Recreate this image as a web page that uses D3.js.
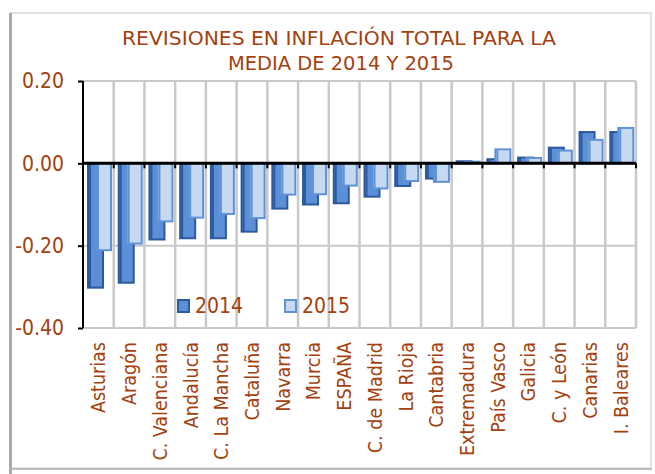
<!DOCTYPE html>
<html>
<head>
<meta charset="utf-8">
<script src="https://cdn.jsdelivr.net/npm/d3@7"></script>
<style>
  body { margin: 0; background: #fff; }
  text { font-family: "DejaVu Sans Condensed", "DejaVu Sans", sans-serif; font-stretch: condensed; }
</style>
</head>
<body>
<div id="vis"></div>
<script>
// data
var regions = ["Asturias", "Aragón", "C. Valenciana", "Andalucía", "C. La Mancha", "Cataluña",
    "Navarra", "Murcia", "ESPAÑA", "C. de Madrid", "La Rioja", "Cantabria", "Extremadura",
    "País Vasco", "Galicia", "C. y León", "Canarias", "I. Baleares"];
var rev2014 = [-0.302, -0.290, -0.185, -0.182, -0.182, -0.166, -0.110, -0.100, -0.097, -0.081,
    -0.055, -0.037, 0.005, 0.010, 0.014, 0.038, 0.076, 0.076];
var rev2015 = [-0.211, -0.195, -0.141, -0.132, -0.123, -0.133, -0.076, -0.075, -0.054, -0.061,
    -0.043, -0.045, 0.004, 0.034, 0.013, 0.031, 0.057, 0.086];
var yTicks = [0.2, 0.0, -0.2, -0.4];
var seriesNames = ["2014", "2015"];

const WIDTH = 655;
const HEIGHT = 474;
const PLOT_LEFT = 83;
const PLOT_RIGHT = 636;
const PLOT_TOP = 81;
const PLOT_BOTTOM = 328;
const TEXT_COLOR = "#a3410f";
const GRID_COLOR = "#c9c9c9";
const FILL = ["#5b8fd8", "#c6d9f1"];
const STROKE = ["#2c5a9c", "#5f93d6"];

var svg = d3.select("#vis").append("svg")
    .attr("width", WIDTH)
    .attr("height", HEIGHT);

// chart frame
svg.append("rect")
    .attr("x", 11).attr("y", 13)
    .attr("width", 640).attr("height", 455)
    .attr("fill", "#fff")
    .attr("stroke", "#e2e2e2")
    .attr("stroke-width", 2);
svg.append("line")
    .attr("x1", 10.5).attr("x2", 10.5).attr("y1", 13).attr("y2", 474)
    .attr("stroke", "#a9a9a9").attr("stroke-width", 3);
svg.append("line")
    .attr("x1", 11).attr("x2", 652).attr("y1", 469).attr("y2", 469)
    .attr("stroke", "#bdbdbd").attr("stroke-width", 2);

// title
var title = svg.append("text")
    .attr("text-anchor", "middle")
    .attr("fill", TEXT_COLOR)
    .attr("font-size", "20px");
title.append("tspan").attr("x", 339).attr("y", 45)
    .attr("textLength", 434).attr("lengthAdjust", "spacingAndGlyphs")
    .text("REVISIONES EN INFLACIÓN TOTAL PARA LA");
title.append("tspan").attr("x", 341).attr("y", 70)
    .attr("textLength", 226).attr("lengthAdjust", "spacingAndGlyphs")
    .text("MEDIA DE 2014 Y 2015");

var x = d3.scaleBand()
    .domain(regions)
    .range([PLOT_LEFT, PLOT_RIGHT])
    .paddingInner(0)
    .paddingOuter(0);

var y = d3.scaleLinear()
    .domain([-0.4, 0.2])
    .range([PLOT_BOTTOM, PLOT_TOP]);

var bw = x.bandwidth();

// vertical gridlines at category edges
svg.append("g").selectAll("line")
    .data(regions)
    .enter()
    .append("line")
    .attr("x1", function (d) { return x(d) + bw; })
    .attr("x2", function (d) { return x(d) + bw; })
    .attr("y1", PLOT_TOP)
    .attr("y2", PLOT_BOTTOM)
    .attr("stroke", GRID_COLOR)
    .attr("stroke-width", 2.5);

// horizontal gridlines
svg.append("g").selectAll("line")
    .data(yTicks.filter(function (d) { return d !== 0; }))
    .enter()
    .append("line")
    .attr("x1", PLOT_LEFT)
    .attr("x2", PLOT_RIGHT)
    .attr("y1", function (d) { return y(d); })
    .attr("y2", function (d) { return y(d); })
    .attr("stroke", GRID_COLOR)
    .attr("stroke-width", 2);

// bars, 2014 drawn first, 2015 overlapping on the right
var series = [rev2014, rev2015];
var offsets = [5, 13];
var barW = 15;
series.forEach(function (vals, s) {
    var g = svg.append("g");
    g.selectAll("rect.bar")
        .data(vals)
        .enter()
        .append("rect")
        .attr("x", function (d, i) { return x(regions[i]) + offsets[s]; })
        .attr("y", function (d) { return Math.min(y(d), y(0)); })
        .attr("width", barW)
        .attr("height", function (d) { return Math.abs(y(d) - y(0)); })
        .attr("fill", FILL[s])
        .attr("stroke", STROKE[s])
        .attr("stroke-width", 2);
    // darker left edge for the bevelled look
    g.selectAll("rect.edge")
        .data(vals)
        .enter()
        .append("rect")
        .attr("x", function (d, i) { return x(regions[i]) + offsets[s] + 1; })
        .attr("y", function (d) { return Math.min(y(d), y(0)); })
        .attr("width", 2)
        .attr("height", function (d) { return Math.abs(y(d) - y(0)); })
        .attr("fill", STROKE[s]);
});

// left axis
var yAxis = svg.append("g")
    .attr("transform", "translate(" + PLOT_LEFT + ",0)")
    .call(d3.axisLeft(y).tickValues(yTicks).tickSize(5).tickPadding(14)
        .tickFormat(d3.format(".2f")));
yAxis.select(".domain").attr("stroke", "#000").attr("stroke-width", 2)
    .attr("d", "M0," + PLOT_TOP + "V" + PLOT_BOTTOM);
yAxis.selectAll(".tick line").attr("stroke", "#000").attr("stroke-width", 2);
yAxis.selectAll(".tick text")
    .attr("fill", TEXT_COLOR)
    .attr("font-size", "21px")
    .attr("font-family", "DejaVu Sans Condensed, DejaVu Sans, sans-serif")
    .text(function (d) { return d3.format(".2f")(d).replace("−", "-"); });

// zero line with ticks at category edges
var zero = svg.append("g");
zero.append("line")
    .attr("x1", PLOT_LEFT).attr("x2", PLOT_RIGHT)
    .attr("y1", y(0)).attr("y2", y(0))
    .attr("stroke", "#000").attr("stroke-width", 3);
zero.selectAll("line.tick")
    .data(regions)
    .enter()
    .append("line")
    .attr("x1", function (d) { return x(d) + bw; })
    .attr("x2", function (d) { return x(d) + bw; })
    .attr("y1", y(0))
    .attr("y2", y(0) + 5)
    .attr("stroke", "#000")
    .attr("stroke-width", 2);

// category labels
svg.append("g").selectAll("text")
    .data(regions)
    .enter()
    .append("text")
    .attr("transform", function (d) {
        return "translate(" + (x(d) + bw / 2 + 7) + "," + 342 + ") rotate(-90)";
    })
    .attr("text-anchor", "end")
    .attr("fill", TEXT_COLOR)
    .attr("font-size", "19.5px")
    .text(function (d) { return d; });

// legend
var legendX = [178, 285];
var legend = svg.append("g").selectAll("g")
    .data(seriesNames)
    .enter()
    .append("g");
legend.append("rect")
    .attr("x", function (d, i) { return legendX[i]; })
    .attr("y", 300)
    .attr("width", 11)
    .attr("height", 12)
    .attr("fill", function (d, i) { return FILL[i]; })
    .attr("stroke", function (d, i) { return STROKE[i]; })
    .attr("stroke-width", 2);
legend.append("text")
    .attr("x", function (d, i) { return legendX[i] + 17; })
    .attr("y", 313)
    .attr("fill", TEXT_COLOR)
    .attr("font-size", "21px")
    .text(function (d) { return d; });
</script>
</body>
</html>
